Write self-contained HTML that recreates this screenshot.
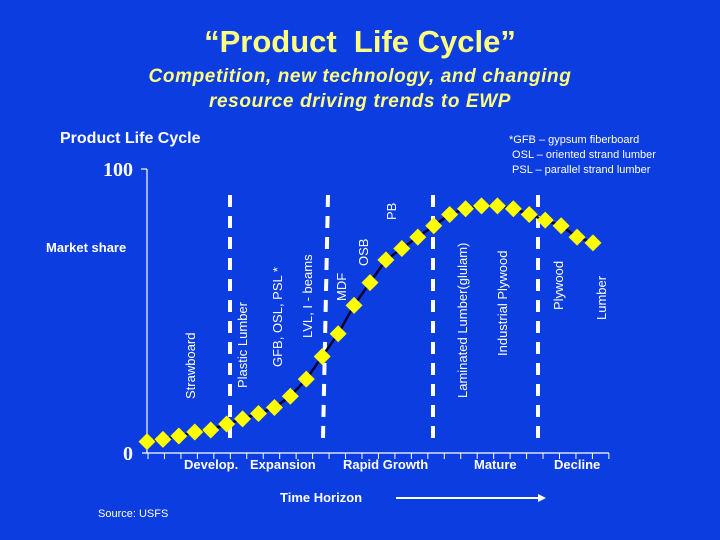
<!DOCTYPE html>
<html><head><meta charset="utf-8"><style>
html,body{margin:0;padding:0;}
body{width:720px;height:540px;background:#0c3de0;overflow:hidden;position:relative;font-family:"Liberation Sans",sans-serif;}
.t{position:absolute;white-space:nowrap;}
</style></head><body>
<div class="t" style="left:0;width:720px;text-align:center;top:24px;font-size:31px;font-weight:bold;color:#ffff80;">“Product&nbsp; Life Cycle”</div>
<div class="t" style="left:0;width:720px;text-align:center;top:64px;font-size:19px;line-height:25px;font-weight:bold;font-style:italic;color:#ffff80;letter-spacing:0.6px;">Competition, new technology, and changing<br>resource driving trends to EWP</div>
<svg width="720" height="540" style="position:absolute;left:0;top:0">
<g id="g"></g>
</svg>
<script>
const categories=["1","2","3","4","5","6","7","8","9","10","11","12","13","14","15","16","17","18","19","20","21","22","23","24","25","26","27","28","29"];
const values=[4,4.8,6,7.4,8.1,10.2,12,13.9,16,20,26,34,42,52,60,68,72,76,80,84,86,87,87,86,84,82,80,76,74];
const yTickLabels=["0","100"];
const yTickValues=[0,100];
const stageLabels=["Develop.","Expansion","Rapid Growth","Mature","Decline"];
const productLabels=["Strawboard","Plastic Lumber","GFB, OSL, PSL *","LVL, I - beams","MDF","OSB","PB","Laminated Lumber(glulam)","Industrial Plywood","Plywood","Lumber"];
const NS="http://www.w3.org/2000/svg";
const g=document.getElementById('g');
function yS(v){return 453-v*2.84;}
function xS(i){return 147+i*(446/(categories.length-1));}
function mk(t,a,txt){const e=document.createElementNS(NS,t);for(const k in a)e.setAttribute(k,a[k]);if(txt!==undefined)e.textContent=txt;g.appendChild(e);return e;}
let e=mk('line',{x1:147,y1:169,x2:147,y2:453,stroke:'#fff','stroke-width':1.2});

mk('line',{x1:141,y1:169,x2:147,y2:169,stroke:'#fff','stroke-width':1.2});
e=mk('line',{x1:142,y1:453,x2:609,y2:453,stroke:'#fff','stroke-width':1.2});

for(let i=0;i<29;i++){const x=148+i*16.46;mk('line',{x1:x,y1:453,x2:x,y2:459,stroke:'#fff','stroke-width':1});}
yTickValues.forEach((v,i)=>{const t=mk('text',{x:133,y:yS(v)+7,'text-anchor':'end','font-family':'Liberation Serif, serif','font-size':20,'font-weight':'bold',fill:'#fff'},yTickLabels[i]);
});
[[230,230],[328,323],[433,433],[538,538]].forEach(d=>{const l=mk('line',{x1:d[0],y1:195,x2:d[1],y2:438,stroke:'#fff','stroke-width':4,'stroke-dasharray':'12 9'});
});
const pos=[[195,399],[247,388],[282,367],[312,338],[346,301],[368,266],[396,220],[467,398],[507,356],[563,310],[606,320]];
productLabels.forEach((s,i)=>{const t=mk('text',{x:0,y:0,transform:`translate(${pos[i][0]},${pos[i][1]}) rotate(-90)`,'font-size':13,fill:'#fff'},s);
});
let d='';values.forEach((v,i)=>{d+=(i?'L':'M')+xS(i)+' '+yS(v);});
e=mk('path',{d:d,fill:'none',stroke:'#000033','stroke-width':2.5});

values.forEach((v,i)=>{const x=xS(i),y=yS(v),r=8.5;
const p=mk('polygon',{points:`${x},${y-r} ${x+r},${y} ${x},${y+r} ${x-r},${y}`,fill:'#ffff00'});
});
const sx=[184,250,343,474,554];
stageLabels.forEach((s,i)=>{const t=mk('text',{x:sx[i],y:469,'font-size':13,'font-weight':'bold',fill:'#fff'},s);
});
</script>
<div class="t" style="left:60px;top:130px;font-size:16px;font-weight:bold;color:#fff;">Product Life Cycle</div>
<div class="t" style="left:509px;top:133px;font-size:11px;line-height:15px;color:#fff;">*GFB – gypsum fiberboard<br>&nbsp;OSL – oriented strand lumber<br>&nbsp;PSL – parallel strand lumber</div>
<div class="t" style="left:46px;top:240px;font-size:13px;font-weight:bold;color:#fff;">Market share</div>
<div class="t" style="left:280px;top:490px;font-size:13px;font-weight:bold;color:#fff;">Time Horizon</div>
<svg width="720" height="540" style="position:absolute;left:0;top:0;pointer-events:none"><line x1="396" y1="498" x2="540" y2="498" stroke="#fff" stroke-width="2"/><polygon points="546,498 538,494 538,502" fill="#fff"/></svg>
<div class="t" style="left:98px;top:508px;font-size:11px;color:#fff;">Source: USFS</div>
</body></html>
